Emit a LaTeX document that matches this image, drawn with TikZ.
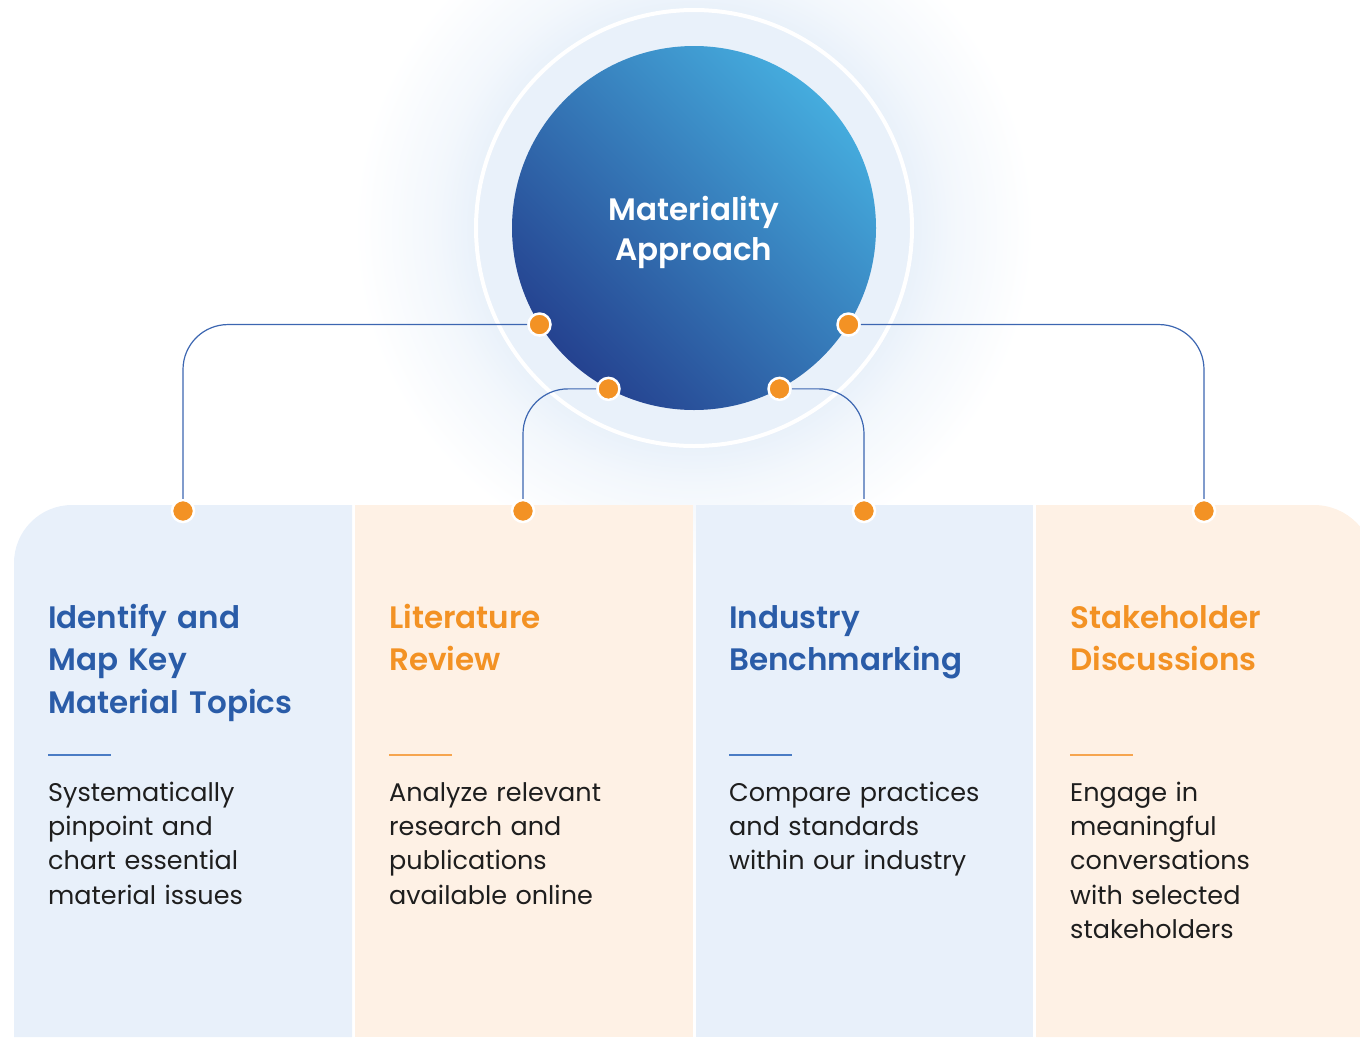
\documentclass[tikz,border=0pt]{standalone}
\usepackage{fontspec}
\setmainfont{Poppins}
\newfontfamily\headfont{Poppins SemiBold}

\definecolor{navy}{HTML}{24408E}
\definecolor{sky}{HTML}{47B2E2}
\definecolor{linkblue}{HTML}{3C66B1}
\definecolor{headblue}{HTML}{2A5CA8}
\definecolor{dotorange}{HTML}{F39224}
\definecolor{ruleblue}{HTML}{4A7CC4}
\definecolor{ruleorange}{HTML}{F6A54F}
\definecolor{paleblue}{HTML}{E8F0FA}
\definecolor{paleorange}{HTML}{FEF1E5}
\definecolor{haze}{HTML}{E9F1FA}
\definecolor{ink}{HTML}{1E1E1E}

\pgfdeclareradialshading{glow}{\pgfpoint{0bp}{0bp}}{color(0bp)=(haze); color(16bp)=(haze); color(19bp)=(haze!55!white); color(25bp)=(white); color(50bp)=(white)}
\pgfdeclarehorizontalshading{orb}{100bp}{color(0bp)=(navy); color(24bp)=(navy); color(78bp)=(sky); color(100bp)=(sky)}

\begin{document}
\begin{tikzpicture}[
    x=1pt, y=-1pt,
    hub/.style={circle, minimum size=364pt, inner sep=0pt, shade, shading=orb, shading angle=45},
    title/.style={text=white, align=center, inner sep=0pt, font=\headfont\fontsize{31}{40}\selectfont},
    pin/.style={circle, fill=dotorange, draw=white, line width=2.5pt, minimum size=22pt, inner sep=0pt},
    link/.style={draw=linkblue, line width=1.2pt, rounded corners=45pt},
    head/.style={anchor=base west, inner sep=0pt, text width=310pt, align=left,
      font=\headfont\fontsize{31}{42.5}\selectfont},
    body/.style={anchor=base west, inner sep=0pt, text width=310pt, align=left, text=ink,
      font=\fontsize{25.5}{34.4}\selectfont},
    bar/.style={line width=2pt}
]
\useasboundingbox (0,0) rectangle (1360,1037);

% halo behind the hub
\shade[shading=glow] (694,228) circle (340);

% columns
\fill[paleblue] (352,1037) -- (14,1037) -- (14,563) arc[start angle=180, end angle=270, radius=58] -- (352,505) -- cycle;
\fill[paleorange] (355,505) rectangle (693,1037);
\fill[paleblue] (696,505) rectangle (1033,1037);
\fill[paleorange] (1036,1037) -- (1036,505) -- (1314,505) arc[start angle=270, end angle=360, radius=60] -- (1374,1037) -- cycle;

% ring and hub
\draw[white, line width=4pt] (694,228) circle (218);
\node[hub] (hub) at (694,228) {};
\node[title] (hubtitle) at ([yshift=-4pt]hub.center) {Materiality\\Approach};

% pins
\node[pin] (t1) at (hub.212) {};
\node[pin] (t2) at (hub.242) {};
\node[pin] (t3) at (hub.298) {};
\node[pin] (t4) at (hub.328) {};
\node[pin] (b1) at (183,511) {};
\node[pin] (b2) at (523,511) {};
\node[pin] (b3) at (864,511) {};
\node[pin] (b4) at (1204,511) {};

\draw[link] (t1) -| (b1);
\draw[link] (t2) -| (b2);
\draw[link] (t3) -| (b3);
\draw[link] (t4) -| (b4);

% column texts
\node[head, text=headblue] (h1) at (48,628) {Identify and\\Map Key\\Material Topics};
\node[head, text=dotorange] (h2) at (389,628) {Literature\\Review};
\node[head, text=headblue] (h3) at (729,628) {Industry\\Benchmarking};
\node[head, text=dotorange] (h4) at (1070,628) {Stakeholder\\Discussions};

\draw[bar, ruleblue] (48,755) -- (111,755);
\draw[bar, ruleorange] (389,755) -- (452,755);
\draw[bar, ruleblue] (729,755) -- (792,755);
\draw[bar, ruleorange] (1070,755) -- (1133,755);

\node[body] (d1) at (48,801) {Systematically\\pinpoint and\\chart essential\\material issues};
\node[body] (d2) at (389,801) {Analyze relevant\\research and\\publications\\available online};
\node[body] (d3) at (729,801) {Compare practices\\and standards\\within our industry};
\node[body] (d4) at (1070,801) {Engage in\\meaningful\\conversations\\with selected\\stakeholders};
\end{tikzpicture}
\end{document}
